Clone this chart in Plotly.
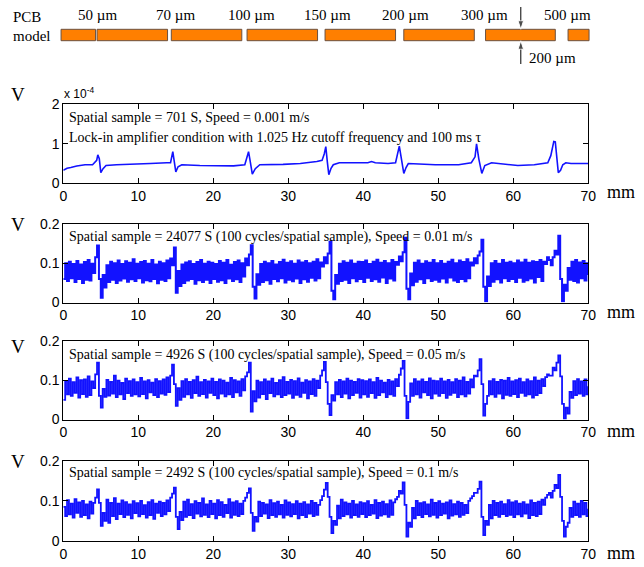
import numpy as np
import plotly.graph_objects as go

# ---------------- data ----------------
# PCB model: slot extents along the scan (mm) and widths
pcb_start_mm = [-0.3, 4.5, 14.4, 24.5, 34.9, 45.4, 56.3, 67.3]
pcb_end_mm = [4.3, 13.9, 23.8, 33.9, 44.3, 54.8, 65.6, 70.1]
gap_labels = ["50 \u00b5m", "70 \u00b5m", "100 \u00b5m", "150 \u00b5m", "200 \u00b5m", "300 \u00b5m", "500 \u00b5m"]
gap_label_mm = [4.5, 14.9, 25.1, 35.2, 45.6, 56.2, 67.2]
arrow_mm = 61.0

# Panel 1: lock-in output (units of 1e-4 V)
p1_x = [0, 0.5, 1.0, 1.8, 2.9, 3.9, 4.45, 4.6, 4.8, 5.0, 5.3, 5.7, 7.1, 9.3, 11.6, 13.8, 14.3,
        14.6, 14.8, 15.0, 15.3, 15.8, 18.2, 20.4, 22.7, 24.2, 24.7, 24.9, 25.2, 25.6, 26.2,
        29.3, 31.6, 33.8, 34.5, 34.8, 35.0, 35.2, 35.4, 35.7, 36.0, 36.8, 38.9, 40.6, 41.1,
        41.6, 43.3, 44.3, 44.8, 45.0, 45.4, 45.7, 46.0, 49.6, 52.7, 54.4, 54.9, 55.1, 55.4,
        55.8, 56.2, 57.1, 60.6, 62.8, 64.6, 65.0, 65.4, 65.6, 65.8, 66.0, 66.3, 66.6, 67.0,
        67.7, 69.5, 70.0]
p1_y = [0.33, 0.38, 0.40, 0.44, 0.47, 0.47, 0.58, 0.72, 0.62, 0.27, 0.37, 0.45, 0.47, 0.48,
        0.50, 0.52, 0.52, 0.80, 0.55, 0.29, 0.42, 0.47, 0.45, 0.44, 0.44, 0.47, 0.80, 0.58,
        0.23, 0.37, 0.47, 0.48, 0.50, 0.55, 0.58, 0.75, 0.93, 0.55, 0.22, 0.38, 0.47, 0.52,
        0.52, 0.52, 0.55, 0.52, 0.50, 0.52, 0.94, 0.70, 0.25, 0.40, 0.50, 0.47, 0.47, 0.52,
        0.67, 1.00, 0.62, 0.25, 0.45, 0.52, 0.45, 0.47, 0.52, 0.70, 1.06, 1.05, 0.55, 0.27,
        0.33, 0.47, 0.52, 0.50, 0.50, 0.50]

# Panels 2-4: demodulated signal sampled every 0.25 mm (values in mV)
step_mm = 0.25
p2_mV = [
    60, 100, 55, 104, 62, 98, 52, 106, 60, 97, 50, 103, 58, 108, 56, 99, 75, 115, 145, 60,
    12, 70, 38, 95, 52, 104, 58, 100, 50, 107, 56, 98, 61, 105, 53, 101, 59, 110, 55, 99,
    62, 103, 51, 106, 57, 99, 54, 108, 60, 97, 49, 104, 58, 100, 55, 107, 62, 112, 95, 140,
    25, 80, 42, 97, 50, 102, 56, 105, 60, 98, 48, 103, 57, 108, 52, 99, 58, 104, 50, 101,
    60, 98, 53, 106, 57, 101, 50, 108, 61, 96, 55, 103, 59, 107, 52, 100, 66, 112, 95, 122,
    146, 40, 10, 72, 45, 98, 52, 104, 57, 100, 48, 106, 60, 97, 54, 103, 62, 109, 51, 101,
    58, 105, 54, 99, 61, 107, 50, 102, 59, 106, 53, 100, 63, 104, 56, 110, 62, 102, 92, 115,
    100, 125, 155, 30, 8, 70, 48, 99, 55, 105, 58, 101, 50, 107, 62, 99, 54, 104, 60, 103,
    52, 107, 63, 98, 55, 104, 59, 109, 53, 101, 64, 106, 50, 100, 61, 108, 56, 103, 96, 117,
    105, 128, 165, 35, 8, 74, 44, 101, 53, 107, 59, 99, 50, 105, 62, 101, 55, 108, 58, 100,
    53, 106, 61, 99, 51, 104, 64, 109, 56, 100, 52, 107, 60, 103, 54, 110, 62, 102, 94, 113,
    100, 120, 130, 160, 40, 3, 66, 42, 100, 53, 106, 59, 99, 51, 108, 62, 101, 55, 104, 60,
    100, 52, 107, 63, 102, 53, 109, 57, 101, 61, 105, 51, 103, 65, 108, 55, 104, 98, 115, 108,
    95, 115, 132, 122, 170, 60, 3, 45, 30, 88, 58, 104, 55, 108, 51, 102, 62, 106, 56, 100,
    70]
p3_mV = [
    50, 98, 64, 104, 60, 95, 68, 107, 56, 100, 65, 102, 58, 110, 62, 97, 80, 115, 145, 60,
    30, 78, 58, 101, 61, 96, 66, 112, 57, 99, 64, 93, 52, 104, 67, 98, 60, 102, 64, 95,
    59, 106, 65, 97, 54, 100, 69, 94, 62, 103, 57, 98, 66, 102, 63, 107, 70, 112, 140, 90,
    35, 80, 50, 98, 58, 103, 64, 96, 55, 100, 67, 109, 60, 95, 65, 101, 56, 97, 68, 104,
    62, 96, 54, 102, 66, 99, 59, 94, 64, 106, 57, 100, 69, 97, 60, 103, 74, 110, 120, 145,
    20, 72, 46, 99, 56, 95, 65, 102, 52, 97, 67, 104, 59, 93, 64, 100, 57, 108, 62, 96,
    66, 101, 55, 98, 63, 105, 58, 94, 68, 100, 54, 97, 65, 103, 60, 99, 80, 112, 125, 147,
    95, 40, 11, 62, 48, 95, 64, 101, 57, 97, 66, 104, 54, 99, 62, 96, 68, 103, 56, 100,
    64, 98, 58, 102, 67, 95, 55, 106, 62, 99, 69, 94, 57, 101, 64, 97, 60, 103, 85, 114,
    130, 149, 60, 3, 45, 92, 60, 103, 64, 97, 56, 102, 69, 96, 62, 105, 54, 99, 66, 98,
    60, 104, 67, 97, 55, 101, 63, 95, 68, 103, 57, 99, 64, 107, 59, 96, 66, 102, 82, 112,
    110, 125, 154, 90, 10, 40, 60, 98, 64, 103, 58, 96, 66, 101, 54, 99, 63, 106, 60, 97,
    65, 100, 57, 104, 68, 95, 60, 102, 64, 98, 56, 107, 62, 99, 67, 103, 85, 108, 115, 112,
    112, 132, 125, 145, 163, 110, 40, 2, 30, 15, 70, 55, 98, 62, 103, 66, 97, 60, 102, 64,
    85]
p4_mV = [
    85, 62, 102, 66, 93, 58, 104, 70, 96, 60, 100, 64, 91, 56, 98, 68, 95, 108, 129, 95,
    37, 70, 50, 103, 45, 95, 62, 107, 54, 93, 67, 101, 59, 97, 65, 91, 56, 99, 69, 94,
    61, 100, 67, 89, 58, 97, 64, 102, 55, 93, 70, 98, 62, 95, 66, 101, 74, 108, 118, 133,
    60, 29, 72, 52, 98, 60, 103, 64, 92, 57, 99, 68, 95, 61, 106, 65, 91, 59, 100, 67,
    93, 56, 102, 64, 97, 60, 90, 69, 104, 58, 96, 65, 99, 62, 93, 67, 100, 108, 120, 131,
    70, 25, 60, 48, 98, 62, 95, 68, 91, 57, 102, 64, 94, 60, 98, 66, 90, 58, 101, 65,
    96, 61, 92, 67, 99, 56, 93, 64, 97, 59, 91, 68, 100, 62, 95, 65, 90, 102, 112, 128,
    145, 110, 60, 19, 50, 40, 88, 56, 103, 62, 96, 66, 93, 58, 100, 64, 91, 60, 97, 67,
    94, 59, 99, 64, 90, 68, 102, 57, 95, 63, 98, 66, 92, 60, 101, 65, 96, 104, 110, 125,
    118, 146, 90, 10, 45, 35, 82, 56, 100, 64, 94, 59, 97, 67, 91, 61, 103, 65, 95, 58,
    99, 64, 93, 68, 96, 56, 101, 63, 92, 66, 98, 60, 95, 65, 90, 69, 100, 106, 112, 120,
    120, 130, 148, 60, 14, 50, 40, 90, 56, 100, 64, 95, 60, 98, 67, 92, 62, 102, 65, 96,
    59, 99, 66, 93, 61, 97, 68, 91, 57, 101, 64, 95, 62, 98, 67, 103, 90, 108, 115, 120,
    108, 125, 140, 132, 165, 110, 50, 10, 35, 45, 82, 60, 98, 64, 93, 60, 100, 66, 95, 62,
    80]

panel_texts = [
    "Spatial sample = 701 S, Speed = 0.001 m/s",
    "Spatial sample = 24077 S (100 cycles/spatial sample), Speed = 0.01 m/s",
    "Spatial sample = 4926 S (100 cycles/spatial sample), Speed = 0.05 m/s",
    "Spatial sample = 2492 S (100 cycles/spatial sample), Speed = 0.1 m/s",
]
lockin_text = "Lock-in amplifier condition with 1.025 Hz cutoff frequency and 100 ms \u03c4"
x_ticks = [0, 10, 20, 30, 40, 50, 60, 70]
y1_ticks = [0, 1, 2]
y1_ticktext = ["0", "1", "2"]
y_ticks = [0, 0.1, 0.2]
y_ticktext = ["0", "0.1", "0.2"]

# ---------------- layout helpers ----------------
W, H = 644, 567
SERIF = "Liberation Serif"
SANS = "Liberation Sans"
BLUE = "#1212ff"


def py(pix):
    return 1 - pix / H


def px(pix):
    return pix / W


x_dom = [px(63.3), px(588.3)]
panels = [  # (top px, bottom px)
    (104.3, 183.3),
    (224.0, 302.5),
    (341.0, 419.5),
    (461.0, 540.7),
]

fig = go.Figure()

series = [
    (p1_x, p1_y, 1.6, "linear"),
    (np.arange(len(p2_mV)) * step_mm, np.array(p2_mV) / 1000.0, 2.0, "hv"),
    (np.arange(len(p3_mV)) * step_mm, np.array(p3_mV) / 1000.0, 1.8, "hv"),
    (np.arange(len(p4_mV)) * step_mm, np.array(p4_mV) / 1000.0, 1.8, "hv"),
]
for i, (sx, sy, lw, shp) in enumerate(series):
    sfx = "" if i == 0 else str(i + 1)
    fig.add_trace(go.Scatter(x=sx, y=sy, mode="lines",
                             line=dict(color=BLUE, width=lw, shape=shp),
                             xaxis="x" + sfx, yaxis="y" + sfx, showlegend=False,
                             hoverinfo="skip"))

layout = dict(width=W, height=H, margin=dict(l=0, r=0, t=0, b=0, autoexpand=False),
              paper_bgcolor="white", plot_bgcolor="white", showlegend=False)

for i, (top, bot) in enumerate(panels):
    sfx = "" if i == 0 else str(i + 1)
    layout["xaxis" + sfx] = dict(
        domain=x_dom, range=[0, 70], tickvals=x_ticks, ticks="inside", ticklen=5,
        tickcolor="black", showline=True, linecolor="black", linewidth=1, mirror="ticks",
        showgrid=False, zeroline=False, anchor="y" + sfx, automargin=False,
        tickfont=dict(family=SANS, size=14, color="black"), fixedrange=True)
    layout["yaxis" + sfx] = dict(
        domain=[py(bot), py(top)],
        range=[0, 2] if i == 0 else [0, 0.2],
        tickvals=y1_ticks if i == 0 else y_ticks,
        ticktext=y1_ticktext if i == 0 else y_ticktext,
        ticks="inside", ticklen=5, tickcolor="black", showline=True, linecolor="black",
        linewidth=1, mirror="ticks", showgrid=False, zeroline=False, anchor="x" + sfx,
        automargin=False,
        tickfont=dict(family=SANS, size=14, color="black"), fixedrange=True)

# hidden axis for the PCB model drawing, aligned with the mm scale of the panels
mm_per_px = 70 / (588.3 - 63.3)
layout["xaxis5"] = dict(domain=[0, 1], range=[-63.3 * mm_per_px, (W - 63.3) * mm_per_px],
                        visible=False, fixedrange=True, anchor="y5", automargin=False)
layout["yaxis5"] = dict(domain=[py(75), 1], range=[75, 0], visible=False,
                        fixedrange=True, anchor="x5", automargin=False)

# thickness arrows (down onto the slot, up from below)
fig.add_trace(go.Scatter(x=[arrow_mm, arrow_mm], y=[7, 29.3], mode="lines+markers",
                         line=dict(color="black", width=1),
                         marker=dict(symbol="arrow", angleref="previous", size=[0, 9],
                                     color="black"),
                         xaxis="x5", yaxis="y5", showlegend=False, hoverinfo="skip"))
fig.add_trace(go.Scatter(x=[arrow_mm, arrow_mm], y=[64, 40.7], mode="lines+markers",
                         line=dict(color="black", width=1),
                         marker=dict(symbol="arrow", angleref="previous", size=[0, 9],
                                     color="black"),
                         xaxis="x5", yaxis="y5", showlegend=False, hoverinfo="skip"))

fig.update_layout(**layout)

shapes = []
for s, e in zip(pcb_start_mm, pcb_end_mm):
    shapes.append(dict(type="rect", xref="x5", yref="y5", x0=s, x1=e, y0=29.3, y1=40.7,
                       fillcolor="#ff7f00", line=dict(color="#6b5040", width=1),
                       layer="below"))
fig.update_layout(shapes=shapes)

ann = []
ann.append(dict(text="PCB", x=px(11), y=py(17), xref="paper", yref="paper",
                xanchor="left", yanchor="middle", showarrow=False,
                font=dict(family=SERIF, size=15, color="black")))
ann.append(dict(text="model", x=px(11), y=py(35.5), xref="paper", yref="paper",
                xanchor="left", yanchor="middle", showarrow=False,
                font=dict(family=SERIF, size=15, color="black")))
for t, m in zip(gap_labels, gap_label_mm):
    ann.append(dict(text=t, x=m, y=14.5, xref="x5", yref="y5", xanchor="center",
                    yanchor="middle", showarrow=False,
                    font=dict(family=SERIF, size=15, color="black")))
ann.append(dict(text="200 \u00b5m", x=px(527), y=py(58), xref="paper", yref="paper",
                xanchor="left", yanchor="middle", showarrow=False,
                font=dict(family=SERIF, size=15, color="black")))

# exponent label for panel 1
ann.append(dict(text="x 10<sup>-4</sup>", x=px(61.5), y=py(93), xref="paper", yref="paper",
                xanchor="left", yanchor="middle", showarrow=False,
                font=dict(family=SANS, size=12, color="black")))

v_y = [94, 225, 346, 461]
mm_y = [192, 312, 431, 553]
txt_y = [117.5, 237, 355, 473]
for i in range(4):
    ann.append(dict(text="V", x=px(18), y=py(v_y[i]), xref="paper", yref="paper",
                    xanchor="center", yanchor="middle", showarrow=False,
                    font=dict(family=SERIF, size=19, color="black")))
    ann.append(dict(text="mm", x=px(621), y=py(mm_y[i]), xref="paper", yref="paper",
                    xanchor="center", yanchor="middle", showarrow=False,
                    font=dict(family=SERIF, size=18, color="black")))
    ann.append(dict(text=panel_texts[i], x=px(67), y=py(txt_y[i]), xref="paper",
                    yref="paper", xanchor="left", yanchor="middle", showarrow=False,
                    font=dict(family=SERIF, size=14, color="black")))
ann.append(dict(text=lockin_text, x=px(67), y=py(137.5), xref="paper", yref="paper",
                xanchor="left", yanchor="middle", showarrow=False,
                font=dict(family=SERIF, size=14, color="black")))

fig.update_layout(annotations=ann)

fig.write_html("out.html", config={"displayModeBar": False},
               post_script="document.body.style.margin='0';document.body.style.padding='0';")
